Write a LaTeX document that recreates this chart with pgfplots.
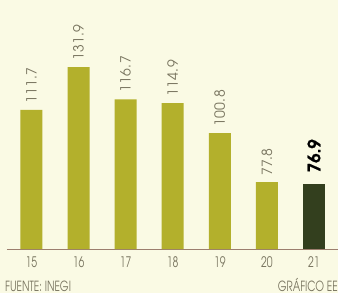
\documentclass[border=0pt]{standalone}
\usepackage{pgfplots}
\pgfplotsset{compat=1.18}
\usepackage{fontspec}
\setmainfont{texgyreadventor-regular.otf}[BoldFont=texgyreadventor-bold.otf]
\newfontfamily\advcond{texgyreadventor-regular.otf}[FakeStretch=0.72]
\newfontfamily\advsp{texgyreadventor-regular.otf}[LetterSpace=3]
\newfontfamily\advbold{texgyreadventor-bold.otf}[FakeBold=0.6]
\definecolor{bg}{HTML}{FAFAE4}
\definecolor{olive}{HTML}{B3B02C}
\definecolor{darkolive}{HTML}{333F1E}
\definecolor{txt}{HTML}{77735E}
\definecolor{base}{HTML}{9C7E6E}
\begin{document}
\begin{tikzpicture}
\fill[bg] (-7pt,-44pt) rectangle (331pt,249pt);
\path[use as bounding box] (-7pt,-44pt) rectangle (331pt,249pt);
\begin{axis}[at={(0pt,0pt)}, anchor=south west, scale only axis,
  width=331pt, height=241.7pt,
  xmin=-0.52, xmax=6.51, ymin=46.3, ymax=160,
  axis x line*=bottom, axis y line=none,
  x axis line style={base, line width=0.8pt, -},
  xtick={0,1,2,3,4,5,6}, xticklabels={15,16,17,18,19,20,21},
  major tick length=0pt,
  xticklabel style={font=\advcond\fontsize{14.5}{14.5}\selectfont, text=txt, yshift=-4pt},
  ybar, bar width=0.467, bar shift=0pt, clip=false,
  point meta=explicit symbolic,
  nodes near coords,
]
\addplot[fill=olive, draw=none,
  every node near coord/.append style={rotate=90, anchor=west, font=\advsp\fontsize{14}{14}\selectfont, text=txt, xshift=3pt}]
  coordinates {(0,111.7) [111.7] (1,131.9) [131.9] (2,116.7) [116.7] (3,114.9) [114.9] (4,100.8) [100.8] (5,77.8) [77.8]};
\addplot[fill=darkolive, draw=none,
  every node near coord/.append style={rotate=90, anchor=west, font=\advbold\fontsize{17}{17}\selectfont, text=black, xshift=8pt}]
  coordinates {(6,76.9) [76.9]};
\end{axis}
\node[anchor=base west, inner sep=0pt, text=txt, font=\advcond\fontsize{14}{14}\selectfont] at (-2pt,-42pt) {FUENTE: INEGI};
\node[anchor=base east, inner sep=0pt, text=txt, font=\advcond\fontsize{14}{14}\selectfont] at (331pt,-42pt) {GRÁFICO EE};
\end{tikzpicture}
\end{document}
